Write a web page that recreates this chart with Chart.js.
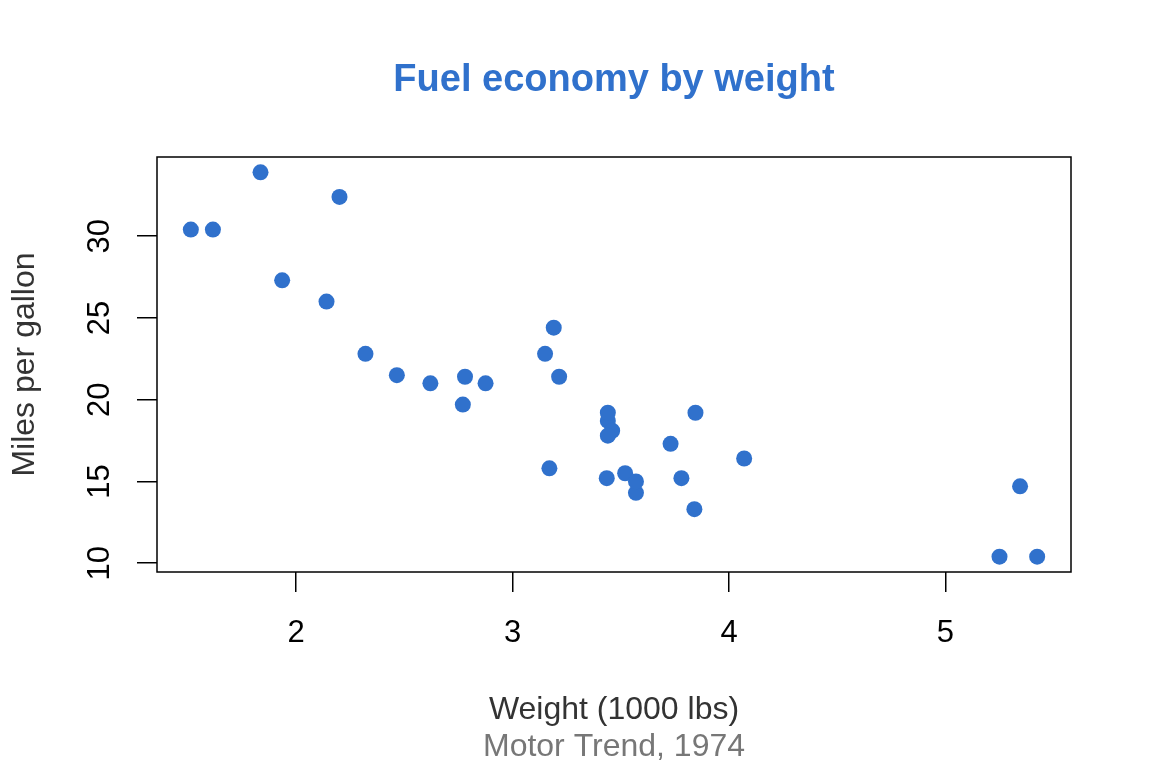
<!DOCTYPE html>
<html>
<head>
<meta charset="utf-8">
<script src="https://cdn.jsdelivr.net/npm/chart.js@4/dist/chart.umd.min.js"></script>
<style>
html,body{margin:0;padding:0;background:#fff;}
#wrap{width:1152px;height:768px;position:relative;}
</style>
</head>
<body>
<div id="wrap"><canvas id="c" width="1152" height="768"></canvas></div>
<script>
const weight = [2.620,2.875,2.320,3.215,3.440,3.460,3.570,3.190,3.150,3.440,3.440,4.070,3.730,3.780,5.250,5.424,5.345,2.200,1.615,1.835,2.465,3.520,3.435,3.840,3.845,1.935,2.140,1.513,3.170,2.770,3.570,2.780];
const mpg = [21.0,21.0,22.8,21.4,18.7,18.1,14.3,24.4,22.8,19.2,17.8,16.4,17.3,15.2,10.4,10.4,14.7,32.4,30.4,33.9,21.5,15.5,15.2,13.3,19.2,27.3,26.0,30.4,15.8,19.7,15.0,21.4];
const xTicks = [2,3,4,5];
const yTicks = [10,15,20,25,30];
const titleText = "Fuel economy by weight";
const xLabel = "Weight (1000 lbs)";
const yLabel = "Miles per gallon";
const subText = "Motor Trend, 1974";

const blue = '#3071cc';
const FONT = '"Liberation Sans", Arial, Helvetica, sans-serif';

const points = weight.map((w,i)=>({x:w,y:mpg[i]}));

const textPlugin = {
  id:'rtext',
  afterDraw(chart){
    const ctx = chart.ctx;
    const a = chart.chartArea;
    const xs = chart.scales.x, ys = chart.scales.y;
    ctx.save();
    ctx.strokeStyle = '#000';
    ctx.lineWidth = 1.5;
    ctx.strokeRect(a.left, a.top, a.right-a.left, a.bottom-a.top);
    ctx.fillStyle = '#000';
    ctx.font = '31px ' + FONT;
    ctx.textAlign = 'center';
    ctx.textBaseline = 'middle';
    xTicks.forEach(v=>{
      ctx.fillText(String(v), xs.getPixelForValue(v), 633);
    });
    yTicks.forEach(v=>{
      ctx.save();
      ctx.translate(100, ys.getPixelForValue(v));
      ctx.rotate(-Math.PI/2);
      ctx.fillText(String(v), 0, 0);
      ctx.restore();
    });
    ctx.font = 'bold 38px ' + FONT;
    ctx.fillStyle = blue;
    ctx.fillText(titleText, (a.left+a.right)/2, 81);
    ctx.font = '32px ' + FONT;
    ctx.fillStyle = '#333333';
    ctx.fillText(xLabel, (a.left+a.right)/2, 710);
    ctx.fillStyle = '#777777';
    ctx.fillText(subText, (a.left+a.right)/2, 747);
    ctx.save();
    ctx.fillStyle = '#333333';
    ctx.translate(25, (a.top+a.bottom)/2);
    ctx.rotate(-Math.PI/2);
    ctx.fillText(yLabel, 0, 0);
    ctx.restore();
    ctx.restore();
  }
};

new Chart(document.getElementById('c'), {
  type:'scatter',
  data:{datasets:[{data:points, backgroundColor:blue, borderColor:blue, pointRadius:8, pointHoverRadius:8, borderWidth:0}]},
  options:{
    responsive:false,
    animation:false,
    events:[],
    layout:{padding:{left:137, top:157, right:81, bottom:176}},
    plugins:{legend:{display:false}, tooltip:{enabled:false}, title:{display:false}},
    scales:{
      x:{
        type:'linear', min:1.3566, max:5.5804,
        afterBuildTicks:s=>{s.ticks = xTicks.map(v=>({value:v}));},
        afterFit:s=>{s.height = 20;},
        ticks:{display:false},
        grid:{drawOnChartArea:false, drawTicks:true, tickLength:20, color:'#000', lineWidth:1.5},
        border:{display:false}
      },
      y:{
        type:'linear', min:9.46, max:34.84,
        afterBuildTicks:s=>{s.ticks = yTicks.map(v=>({value:v}));},
        afterFit:s=>{s.width = 20;},
        ticks:{display:false},
        grid:{drawOnChartArea:false, drawTicks:true, tickLength:20, color:'#000', lineWidth:1.5},
        border:{display:false}
      }
    }
  },
  plugins:[textPlugin]
});
</script>
</body>
</html>
